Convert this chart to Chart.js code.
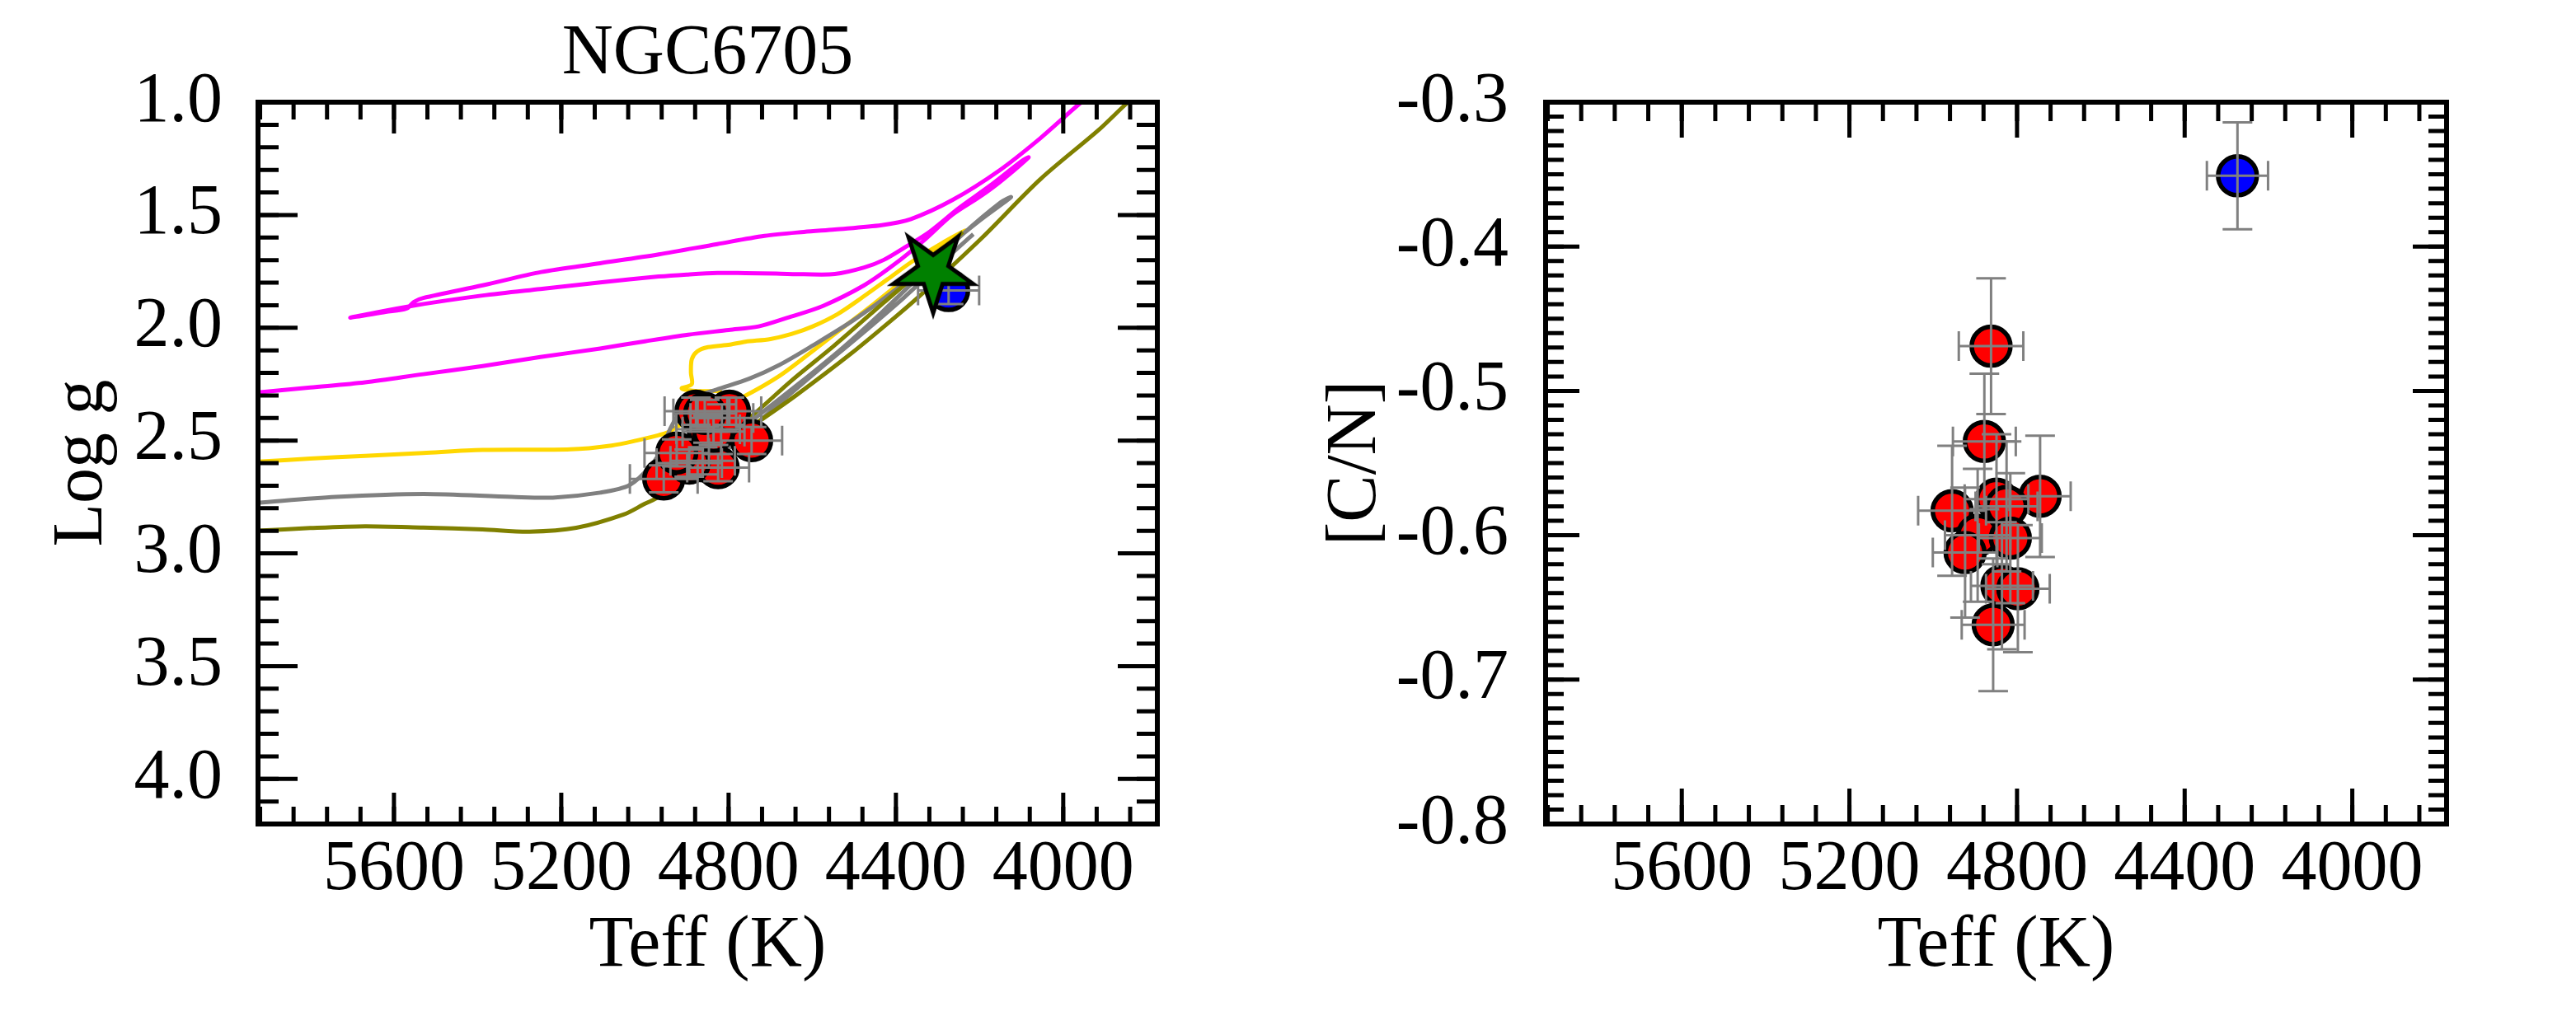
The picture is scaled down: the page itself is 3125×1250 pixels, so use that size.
<!DOCTYPE html>
<html>
<head>
<meta charset="utf-8">
<title>NGC6705</title>
<script src="https://cdn.jsdelivr.net/npm/chart.js@4.4.1/dist/chart.umd.min.js"></script>
<style>
  html, body { margin: 0; padding: 0; background: #fff; }
  #wrap { position: relative; width: 3125px; height: 1250px; }
  .panel { position: absolute; top: 0; height: 1250px; }
  #left { left: 0; width: 1480px; }
  #right { left: 1480px; width: 1645px; }
</style>
</head>
<body>
<div id="wrap">
  <div class="panel" id="left"><canvas id="hrChart" width="1480" height="1250"></canvas></div>
  <div class="panel" id="right"><canvas id="cnChart" width="1645" height="1250"></canvas></div>
</div>
<script>
// ---------- tick labels ----------
const teffTicks = [5600, 5200, 4800, 4400, 4000];
const loggTicks = [1.0, 1.5, 2.0, 2.5, 3.0, 3.5, 4.0];
const cnTicks = [-0.8, -0.7, -0.6, -0.5, -0.4, -0.3];

// ---------- cluster giants (red) ----------
const redTeff    = [4862, 4878, 4745, 4849, 4825, 4955, 4894, 4816, 4924, 4836, 4798, 4857];
const redTeffErr = [77, 75, 73, 76, 74, 81, 78, 75, 77, 74, 76, 75];
const redLogg    = [2.59, 2.37, 2.50, 2.45, 2.62, 2.67, 2.60, 2.40, 2.555, 2.46, 2.37, 2.38];
const redLoggErr = [0.06, 0.06, 0.06, 0.06, 0.06, 0.06, 0.06, 0.06, 0.06, 0.06, 0.06, 0.06];
const redCN      = [-0.469, -0.535, -0.573, -0.575, -0.580, -0.583, -0.600, -0.602, -0.612, -0.635, -0.637, -0.662];
const redCNErr   = [0.047, 0.047, 0.042, 0.045, 0.045, 0.045, 0.046, 0.045, 0.045, 0.044, 0.044, 0.046];

// ---------- the blue star ----------
const blueTeff = [4274];
const blueTeffErr = [73];
const blueLogg = [1.835];
const blueLoggErr = [0.06];
const blueCN = [-0.351];
const blueCNErr = [0.037];

// ---------- green star marker ----------
const starTeff = [4311];
const starLogg = [1.748];

// ---------- evolutionary tracks ----------
const magentaTeff = [5925, 5800, 5669, 5530, 5388, 5250, 5107, 5000, 4897, 4800, 4728, 4658, 4574, 4476, 4405, 4335, 4265, 4200, 4153, 4083,
  4100, 4175, 4250, 4320, 4380, 4430, 4476, 4546, 4620, 4686, 4760, 4827, 4900, 4967, 5107, 5250, 5388, 5557, 5704,
  5620, 5570, 5552, 5530, 5388, 5248, 5107, 4967, 4827, 4714, 4620, 4546, 4434, 4364, 4265, 4153, 4055, 3963, 3920];
const magentaLogg = [2.287, 2.265, 2.242, 2.206, 2.170, 2.130, 2.092, 2.060, 2.031, 2.010, 1.994, 1.955, 1.903, 1.812, 1.721, 1.616, 1.499, 1.420, 1.356, 1.245,
  1.262, 1.370, 1.470, 1.575, 1.645, 1.700, 1.733, 1.762, 1.763, 1.760, 1.758, 1.757, 1.764, 1.773, 1.799, 1.828, 1.857, 1.903, 1.955,
  1.930, 1.915, 1.885, 1.868, 1.812, 1.753, 1.714, 1.675, 1.629, 1.593, 1.575, 1.564, 1.545, 1.518, 1.434, 1.303, 1.160, 1.010, 0.950];

const goldTeff = [5925, 5800, 5669, 5530, 5388, 5178, 5080, 5020, 4967, 4947, 4900, 4840, 4770, 4679, 4590, 4520, 4450, 4390, 4345, 4300, 4234,
  4290, 4360, 4420, 4480, 4540, 4600, 4650, 4700, 4760, 4797, 4849, 4875, 4888, 4890, 4888, 4912, 4875, 4816];
const goldLogg = [2.594, 2.580, 2.568, 2.555, 2.542, 2.539, 2.522, 2.500, 2.476, 2.465, 2.415, 2.370, 2.311, 2.214, 2.090, 1.990, 1.890, 1.800, 1.720, 1.645, 1.569,
  1.625, 1.705, 1.785, 1.865, 1.940, 1.995, 2.028, 2.050, 2.062, 2.075, 2.086, 2.105, 2.140, 2.200, 2.250, 2.269, 2.281, 2.280];

const grayTeff = [5925, 5739, 5529, 5318, 5220, 5107, 5037, 4985, 4955, 4940, 4915, 4882, 4829, 4751, 4679, 4600, 4500, 4400, 4300, 4200, 4125,
  4150, 4240, 4335, 4430, 4525, 4630, 4740, 4810, 4845, 4830, 4790, 4700, 4590, 4480, 4380, 4290, 4215];
const grayLogg = [2.776, 2.750, 2.737, 2.750, 2.753, 2.731, 2.698, 2.610, 2.520, 2.450, 2.370, 2.310, 2.274, 2.226, 2.165, 2.080, 1.965, 1.830, 1.675, 1.525, 1.421,
  1.445, 1.585, 1.755, 1.925, 2.085, 2.245, 2.405, 2.505, 2.560, 2.575, 2.520, 2.370, 2.195, 2.025, 1.865, 1.710, 1.585];

const oliveTeff = [5925, 5800, 5669, 5530, 5388, 5276, 5164, 5051, 5000, 4967, 4900, 4820, 4718, 4639, 4509, 4400, 4335, 4195, 4055, 3914, 3851, 3800];
const oliveLogg = [2.900, 2.888, 2.880, 2.886, 2.894, 2.904, 2.887, 2.828, 2.780, 2.750, 2.650, 2.530, 2.403, 2.300, 2.117, 1.950, 1.845, 1.603, 1.342, 1.121, 1.010, 0.930];

const olive2Teff = [4240, 4330, 4430, 4548, 4650, 4751, 4830, 4870];
const olive2Logg = [1.575, 1.730, 1.890, 2.080, 2.235, 2.400, 2.500, 2.550];

// ---------- helpers ----------
const FONT = "'Liberation Serif', 'DejaVu Serif', serif";

function pairs(xs, ys) {
  return xs.map((v, i) => ({ x: v, y: ys[i] }));
}

function makeStar(R, inner, fill, stroke, lw) {
  const size = Math.ceil(2 * (R + 14));
  const c = document.createElement('canvas');
  c.width = size; c.height = size;
  const g = c.getContext('2d');
  const cx = size / 2, cy = size / 2;
  g.beginPath();
  for (let i = 0; i < 10; i++) {
    const ang = Math.PI / 2 + i * Math.PI / 5;   // first tip points down
    const r = i % 2 === 0 ? R : R * inner;
    const px = cx + r * Math.cos(ang), py = cy + r * Math.sin(ang);
    if (i === 0) g.moveTo(px, py); else g.lineTo(px, py);
  }
  g.closePath();
  g.fillStyle = fill;
  g.fill();
  g.lineJoin = 'miter';
  g.lineWidth = lw;
  g.strokeStyle = stroke;
  g.stroke();
  return c;
}

function minorRange(from, to, step) {
  const out = [];
  const n = Math.round((to - from) / step);
  for (let i = 0; i <= n; i++) out.push(+(from + i * step).toFixed(4));
  return out;
}

// inward ticks on all four sides plus the thick frame
function frameTicks(cfg) {
  return {
    id: 'frameTicks',
    afterDraw(chart) {
      const { ctx, chartArea: a, scales: { x, y } } = chart;
      ctx.save();
      ctx.strokeStyle = '#000';
      ctx.lineCap = 'butt';
      ctx.lineWidth = 5;
      const xt = (vals, len) => vals.forEach(v => {
        const px = x.getPixelForValue(v);
        if (px < a.left - 1 || px > a.right + 1) return;
        ctx.beginPath();
        ctx.moveTo(px, a.bottom); ctx.lineTo(px, a.bottom - len);
        ctx.moveTo(px, a.top); ctx.lineTo(px, a.top + len);
        ctx.stroke();
      });
      const yt = (vals, len) => vals.forEach(v => {
        const py = y.getPixelForValue(v);
        if (py < a.top - 1 || py > a.bottom + 1) return;
        ctx.beginPath();
        ctx.moveTo(a.left, py); ctx.lineTo(a.left + len, py);
        ctx.moveTo(a.right, py); ctx.lineTo(a.right - len, py);
        ctx.stroke();
      });
      xt(cfg.xMinor, cfg.xMinorLen);
      xt(cfg.xMajor, cfg.xMajorLen);
      yt(cfg.yMinor, cfg.yMinorLen);
      yt(cfg.yMajor, cfg.yMajorLen);
      ctx.lineWidth = 6;
      ctx.strokeRect(a.left, a.top, a.right - a.left, a.bottom - a.top);
      ctx.restore();
    }
  };
}

// gray error bars, drawn right after the marker dataset they belong to
const errorBars = {
  id: 'errorBars',
  afterDatasetDraw(chart, args) {
    const ds = chart.data.datasets[args.index];
    if (!ds.errX) return;
    const { ctx, scales: { x, y } } = chart;
    const cap = 18;
    ctx.save();
    ctx.strokeStyle = '#808080';
    ctx.lineWidth = 3;
    ds.data.forEach((p, i) => {
      const px = x.getPixelForValue(p.x), py = y.getPixelForValue(p.y);
      const x0 = x.getPixelForValue(p.x - ds.errX[i]), x1 = x.getPixelForValue(p.x + ds.errX[i]);
      const y0 = y.getPixelForValue(p.y - ds.errY[i]), y1 = y.getPixelForValue(p.y + ds.errY[i]);
      ctx.beginPath();
      ctx.moveTo(x0, py); ctx.lineTo(x1, py);
      ctx.moveTo(x0, py - cap); ctx.lineTo(x0, py + cap);
      ctx.moveTo(x1, py - cap); ctx.lineTo(x1, py + cap);
      ctx.moveTo(px, y0); ctx.lineTo(px, y1);
      ctx.moveTo(px - cap, y0); ctx.lineTo(px + cap, y0);
      ctx.moveTo(px - cap, y1); ctx.lineTo(px + cap, y1);
      ctx.stroke();
    });
    ctx.restore();
  }
};

function axisText(cfg) {
  return {
    id: 'axisText',
    afterDraw(chart) {
      const { ctx, chartArea: a } = chart;
      const cx = (a.left + a.right) / 2;
      ctx.save();
      ctx.fillStyle = '#000';
      ctx.textAlign = 'center';
      ctx.textBaseline = 'alphabetic';
      if (cfg.title) {
        ctx.font = '86px ' + FONT;
        ctx.fillText(cfg.title, cx, 89);
      }
      ctx.font = '88px ' + FONT;
      ctx.fillText(cfg.xLabel, cx, 1172);
      ctx.translate(cfg.yLabelX, (a.top + a.bottom) / 2);
      ctx.rotate(-Math.PI / 2);
      ctx.font = '86px ' + FONT;
      ctx.fillText(cfg.yLabel, 0, 0);
      ctx.restore();
    }
  };
}

function tickFont() {
  return { family: FONT, size: 86 };
}

function xScale() {
  return {
    type: 'linear', min: 3775, max: 5925, reverse: true,
    afterBuildTicks: s => { s.ticks = teffTicks.map(v => ({ value: v })); },
    afterFit: s => { s.height = 250; },
    ticks: { font: tickFont(), color: '#000', padding: 5, autoSkip: false, maxRotation: 0, callback: v => String(v) },
    grid: { display: false, drawTicks: false },
    border: { display: false }
  };
}

const lineDefaults = { showLine: true, pointRadius: 0, borderWidth: 5, tension: 0.3, clip: 0, fill: false };

Chart.defaults.font.family = FONT;

// ---------- left panel: Teff vs log g ----------
const starImg = makeStar(51, 0.38, '#008000', '#000', 5);

new Chart(document.getElementById('hrChart'), {
  type: 'scatter',
  data: {
    datasets: [
      { label: 'star', data: pairs(starTeff, starLogg), pointStyle: starImg, pointRadius: 10, order: 0 },
      { label: 'blue', data: pairs(blueTeff, blueLogg), errX: blueTeffErr, errY: blueLoggErr,
        pointRadius: 23.5, borderWidth: 5.5, backgroundColor: '#0000ff', borderColor: '#000', order: 1 },
      { label: 'red', data: pairs(redTeff, redLogg), errX: redTeffErr, errY: redLoggErr,
        pointRadius: 23.5, borderWidth: 5.5, backgroundColor: '#ff0000', borderColor: '#000', order: 2 },
      Object.assign({ label: 'olive2', data: pairs(olive2Teff, olive2Logg), borderColor: '#808000', order: 3 }, lineDefaults),
      Object.assign({ label: 'olive', data: pairs(oliveTeff, oliveLogg), borderColor: '#808000', order: 4 }, lineDefaults),
      Object.assign({ label: 'gray', data: pairs(grayTeff, grayLogg), borderColor: '#808080', order: 5 }, lineDefaults),
      Object.assign({ label: 'gold', data: pairs(goldTeff, goldLogg), borderColor: '#ffd700', order: 6 }, lineDefaults),
      Object.assign({ label: 'magenta', data: pairs(magentaTeff, magentaLogg), borderColor: '#ff00ff', order: 7 }, lineDefaults)
    ]
  },
  options: {
    responsive: false,
    devicePixelRatio: 1,
    animation: false,
    events: [],
    layout: { padding: { left: 0, top: 124, right: 76, bottom: 0 } },
    elements: { line: { capBezierPoints: false } },
    plugins: { legend: { display: false }, tooltip: { enabled: false } },
    scales: {
      x: xScale(),
      y: {
        type: 'linear', min: 1.0, max: 4.2, reverse: true,
        afterBuildTicks: s => { s.ticks = loggTicks.map(v => ({ value: v })); },
        afterFit: s => { s.width = 313; },
        ticks: { font: tickFont(), color: '#000', padding: 43, autoSkip: false, callback: v => v.toFixed(1) },
        grid: { display: false, drawTicks: false },
        border: { display: false }
      }
    }
  },
  plugins: [
    errorBars,
    frameTicks({
      xMajor: teffTicks, xMinor: minorRange(3840, 5920, 80), xMajorLen: 38, xMinorLen: 21,
      yMajor: loggTicks, yMinor: minorRange(1.0, 4.2, 0.1), yMajorLen: 48, yMinorLen: 25
    }),
    axisText({ title: 'NGC6705', xLabel: 'Teff (K)', yLabel: 'Log g', yLabelX: 123 })
  ]
});

// ---------- right panel: Teff vs [C/N] ----------
new Chart(document.getElementById('cnChart'), {
  type: 'scatter',
  data: {
    datasets: [
      { label: 'blue', data: pairs(blueTeff, blueCN), errX: blueTeffErr, errY: blueCNErr,
        pointRadius: 23.5, borderWidth: 5.5, backgroundColor: '#0000ff', borderColor: '#000', order: 1 },
      { label: 'red', data: pairs(redTeff, redCN), errX: redTeffErr, errY: redCNErr,
        pointRadius: 23.5, borderWidth: 5.5, backgroundColor: '#ff0000', borderColor: '#000', order: 2 }
    ]
  },
  options: {
    responsive: false,
    devicePixelRatio: 1,
    animation: false,
    events: [],
    layout: { padding: { left: 0, top: 124, right: 157, bottom: 0 } },
    plugins: { legend: { display: false }, tooltip: { enabled: false } },
    scales: {
      x: xScale(),
      y: {
        type: 'linear', min: -0.8, max: -0.3,
        afterBuildTicks: s => { s.ticks = cnTicks.map(v => ({ value: v })); },
        afterFit: s => { s.width = 395; },
        ticks: { font: tickFont(), color: '#000', padding: 45, autoSkip: false, callback: v => v.toFixed(1) },
        grid: { display: false, drawTicks: false },
        border: { display: false }
      }
    }
  },
  plugins: [
    errorBars,
    frameTicks({
      xMajor: teffTicks, xMinor: minorRange(3840, 5920, 80), xMajorLen: 43, xMinorLen: 23,
      yMajor: cnTicks, yMinor: minorRange(-0.8, -0.3, 0.01), yMajorLen: 41, yMinorLen: 22
    }),
    axisText({ xLabel: 'Teff (K)', yLabel: '[C/N]', yLabelX: 188 })
  ]
});
</script>
</body>
</html>
